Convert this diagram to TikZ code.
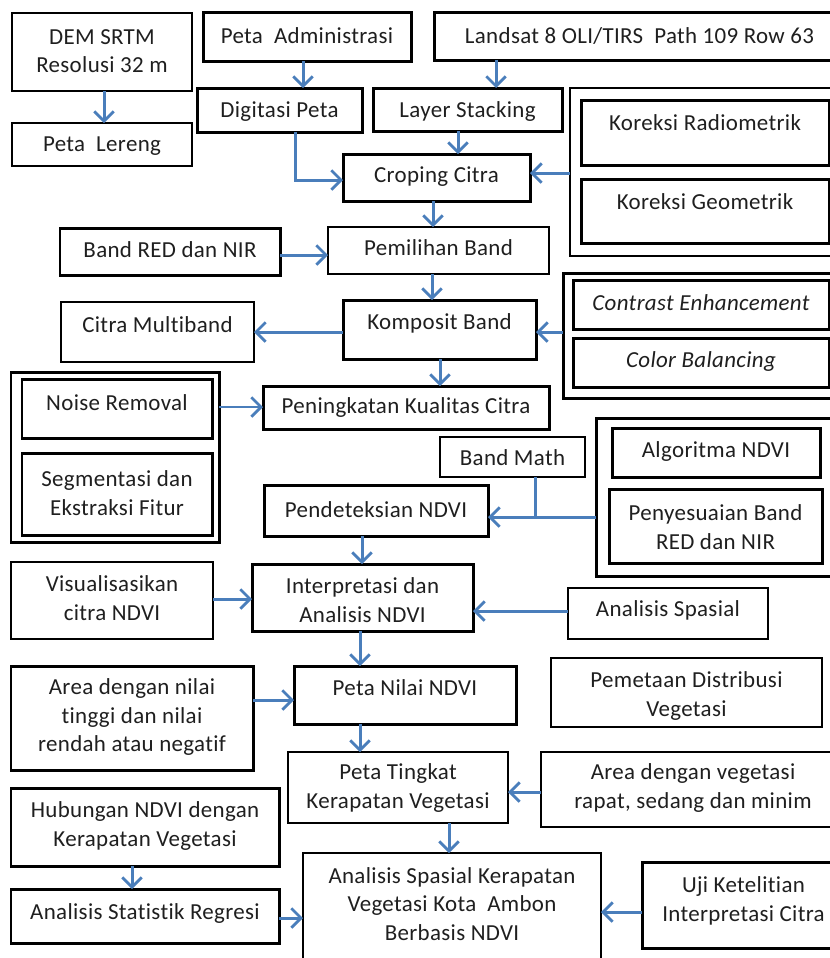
\documentclass[tikz,border=0pt]{standalone}
\usepackage{fontspec}
\setmainfont{Carlito}[Ligatures=NoCommon, LetterSpace=1.5]
\usetikzlibrary{arrows.meta}
\definecolor{arrblue}{HTML}{4A7EBB}
% name, x1, y1, x2, y2, style, text y, text
\newcommand\bx[8]{%
  \node[#6, minimum width={(#4-#2)*0.567pt}, minimum height={(#5-#3)*0.567pt}] (#1) at ({(#2+#4)/2},{(#3+#5)/2}) {};
  \node[txt] (#1t) at ({(#2+#4)/2},#7) {#8};}
\tikzset{
  bxthick/.style={draw=black, line width=1.7pt, inner sep=0pt, outer sep=0pt},
  bxmid/.style={draw=black, line width=1.2pt, inner sep=0pt, outer sep=0pt},
  bxthin/.style={draw=black, line width=0.9pt, inner sep=0pt, outer sep=0pt},
  txt/.style={align=center, inner sep=0pt, text=black!88, font=\fontsize{13}{16.2}\selectfont},
  arr/.style={draw=arrblue, line width=1.7pt, -{Straight Barb[length=5.5pt,width=11pt,line width=1.6pt]}},
  ln/.style={draw=arrblue, line width=1.7pt},
}
\begin{document}
\begin{tikzpicture}[x=0.567pt, y=-0.567pt]
\useasboundingbox (0,0) rectangle (830,958);
\fill[white] (0,0) rectangle (830,958);
% top row
\bx{dem}{12}{13}{192}{91}{bxmid}{51}{DEM SRTM\\Resolusi 32 m}
\bx{lereng}{12}{123}{192}{166}{bxmid}{146}{Peta\ \ Lereng}
\bx{admin}{203}{12}{411}{61}{bxthick}{36}{Peta\ \ Administrasi}
\bx{landsat}{434}{12}{845}{60}{bxthick}{36}{Landsat 8 OLI/TIRS\ \ Path 109 Row 63}
\bx{digit}{197}{88}{362}{132}{bxthick}{112}{Digitasi Peta}
\bx{layer}{373}{88}{562}{131}{bxthick}{112}{Layer Stacking}
\bx{crop}{343}{154}{530}{201}{bxthick}{177}{Croping Citra}
% koreksi group
\bx{kor}{570}{88}{845}{256}{bxmid}{172}{}
\bx{radio}{581}{100}{829}{165}{bxthick}{123}{Koreksi Radiometrik}
\bx{geom}{581}{179}{829}{243}{bxthick}{202}{Koreksi Geometrik}
% band
\bx{red}{60}{228}{280}{275}{bxthick}{250}{Band RED dan NIR}
\bx{pemil}{328}{227}{549}{274}{bxmid}{248}{Pemilihan Band}
\bx{multi}{61}{302}{254}{362}{bxmid}{325}{Citra Multiband}
\bx{komp}{343}{300}{536}{359}{bxthick}{323}{Komposit Band}
% group 2
\bx{grp2}{563}{273}{845}{398}{bxthick}{335}{}
\bx{contr}{573}{280}{829}{329}{bxthick}{303}{\itshape Contrast Enhancement}
\bx{color}{573}{338}{829}{387}{bxthick}{361}{\itshape Color Balancing}
% left group
\bx{grpl}{11}{372}{219}{542}{bxthick}{457}{}
\bx{noise}{22}{379}{212}{438}{bxthick}{403}{Noise Removal}
\bx{segm}{22}{453}{212}{535}{bxthick}{493}{Segmentasi dan\\Ekstraksi Fitur}
\bx{ping}{263}{386}{549}{429}{bxthick}{408}{Peningkatan Kualitas Citra}
\bx{bmath}{440}{437}{585}{477}{bxmid}{458}{Band Math}
\bx{pend}{264}{485}{488}{536}{bxthick}{510}{Pendeteksian NDVI}
% group 3
\bx{grp3}{596}{418}{845}{576}{bxthick}{497}{}
\bx{algo}{612}{428}{820}{477}{bxthick}{452}{Algoritma NDVI}
\bx{peny}{609}{489}{822}{563}{bxthick}{527}{Penyesuaian Band\\RED dan NIR}
% lower part
\bx{visu}{11}{562}{213}{639}{bxthin}{598}{Visualisasikan\\citra NDVI}
\bx{inter}{252}{564}{473}{631}{bxthick}{600}{Interpretasi dan\\Analisis NDVI}
\bx{spas}{568}{588}{768}{639}{bxmid}{610}{Analisis Spasial}
\bx{nilai}{294}{666}{516}{724}{bxthick}{688}{Peta Nilai NDVI}
\bx{arean}{11}{666}{253}{770}{bxthick}{717}{Area dengan nilai\\tinggi dan nilai\\rendah atau negatif}
\bx{pemet}{551}{658}{822}{727}{bxmid}{696}{Pemetaan Distribusi\\Vegetasi}
\bx{tingk}{288}{752}{508}{823}{bxmid}{788}{Peta Tingkat\\Kerapatan Vegetasi}
\bx{areav}{541}{752}{845}{827}{bxmid}{788}{Area dengan vegetasi\\rapat, sedang dan minim}
\bx{hubu}{11}{788}{279}{866}{bxthick}{826}{Hubungan NDVI dengan\\Kerapatan Vegetasi}
\bx{stat}{11}{889}{279}{943}{bxthick}{913}{Analisis Statistik Regresi}
\bx{final}{303}{853}{601}{980}{bxthin}{904}{Analisis Spasial Kerapatan\\Vegetasi Kota\ \ Ambon\\Berbasis NDVI}
\bx{uji}{642}{862}{845}{948}{bxthick}{901}{Uji Ketelitian\\Interpretasi Citra}
% connectors
\draw[arr] (104,0 |- dem.south) -- (104,0 |- lereng.north);
\draw[arr] (303,0 |- admin.south) -- (303,0 |- digit.north);
\draw[arr] (496,0 |- landsat.south) -- (496,0 |- layer.north);
\draw[arr] (295,0 |- digit.south) -- (295,180) -- (crop.west |- 0,180);
\draw[arr] (458,0 |- layer.south) -- (458,0 |- crop.north);
\draw[arr] (kor.west |- 0,173) -- (crop.east |- 0,173);
\draw[arr] (433,0 |- crop.south) -- (433,0 |- pemil.north);
\draw[arr] (red.east |- 0,255) -- (pemil.west |- 0,255);
\draw[arr] (432,0 |- pemil.south) -- (432,0 |- komp.north);
\draw[arr] (komp.west |- 0,332) -- (multi.east |- 0,332);
\draw[arr] (grp2.west |- 0,332) -- (komp.east |- 0,332);
\draw[arr] (440,0 |- komp.south) -- (440,0 |- ping.north);
\draw[arr, line width=1.3pt] (grpl.east |- 0,407) -- (ping.west |- 0,407);
\draw[arr] (grp3.west |- 0,517) -- (pend.east |- 0,517);
\draw[ln] (535,0 |- bmath.south) -- (535,517);
\draw[arr] (362,0 |- pend.south) -- (362,0 |- inter.north);
\draw[arr] (visu.east |- 0,599) -- (inter.west |- 0,599);
\draw[arr] (spas.west |- 0,611) -- (inter.east |- 0,611);
\draw[arr] (360,0 |- inter.south) -- (360,0 |- nilai.north);
\draw[arr] (arean.east |- 0,700) -- (nilai.west |- 0,700);
\draw[arr] (360,0 |- nilai.south) -- (360,0 |- tingk.north);
\draw[arr] (areav.west |- 0,792) -- (tingk.east |- 0,792);
\draw[arr] (449,0 |- tingk.south) -- (449,0 |- final.north);
\draw[arr] (132,0 |- hubu.south) -- (132,0 |- stat.north);
\draw[arr] (stat.east |- 0,918) -- (final.west |- 0,918);
\draw[arr] (uji.west |- 0,912) -- (final.east |- 0,912);
\end{tikzpicture}
\end{document}
